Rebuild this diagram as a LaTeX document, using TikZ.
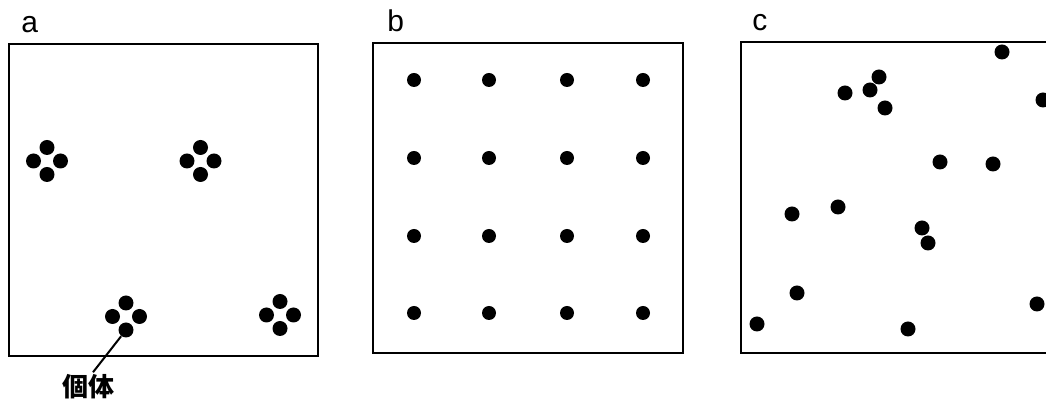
\documentclass[tikz,border=0pt]{standalone}
\usepackage{fontspec}
\setmainfont{Liberation Sans}
\newfontfamily\jpfont{Noto Sans CJK JP}
\usepackage{tikz}
\usetikzlibrary{positioning}

\begin{document}
\begin{tikzpicture}[x=0.5pt,y=-0.5pt,
  dot/.style={circle,fill=black,inner sep=0pt,minimum size=7.5pt},
  panel/.style={draw,line width=1pt},
  tag/.style={anchor=base west,inner sep=0pt,font=\fontsize{15}{17}\selectfont}]
\useasboundingbox (0,0) rectangle (1046,405);
\clip (0,0) rectangle (1046,405);
% panel a: clumped
\node[tag] (taga) at (21,33) {a};
\draw[panel] (9,44) rectangle (318,356);
\foreach \n/\cx/\cy in {1/47/161,2/200.5/161,3/126/316.5,4/280/315}{
  \node[dot] (a\n t) at (\cx,\cy-13.5) {};
  \node[dot] (a\n l) at (\cx-13.5,\cy) {};
  \node[dot] (a\n r) at (\cx+13.5,\cy) {};
  \node[dot] (a\n b) at (\cx,\cy+13.5) {};
}
\node[font=\jpfont\bfseries\fontsize{13}{15}\selectfont,inner sep=1pt] (kotai) at (88,387) {個体};
\draw[line width=1pt] (a3b) -- ([xshift=2.5pt]kotai.north);
% panel b: uniform
\node[tag] (tagb) at (387,32) {b};
\draw[panel] (373,43) rectangle (683,353);
\foreach \x [count=\i] in {414,489,567,643}
  \foreach \y [count=\j] in {80,158,236,313}
    \node[dot,minimum size=7pt] (b\i\j) at (\x,\y) {};
% panel c: random
\node[tag] (tagc) at (752,31) {c};
\draw[panel] (741,42) rectangle (1060,353);
\foreach \x/\y [count=\i] in {1002/52,879/77,870/90,845/93,885/108,1043/100,
    940/162,993/164,792/214,838/207,922/228,928/243,797/293,757/324,908/329,1037/304}
  \node[dot] (c\i) at (\x,\y) {};
\end{tikzpicture}
\end{document}
